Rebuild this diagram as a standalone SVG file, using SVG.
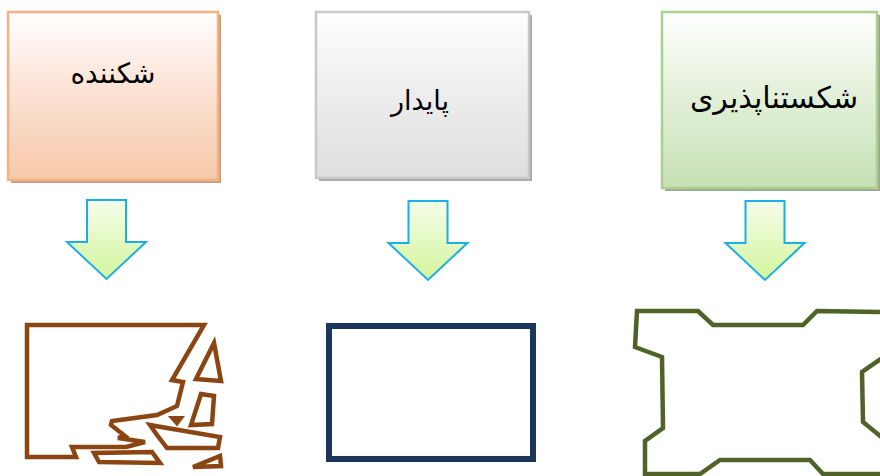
<svg xmlns="http://www.w3.org/2000/svg" width="880" height="476" viewBox="0 0 880 476">
<defs>
<linearGradient id="gOrange" x1="0" y1="0" x2="0" y2="1"><stop offset="0" stop-color="#ffffff"/><stop offset="0.35" stop-color="#fde9df"/><stop offset="1" stop-color="#f6c8a8"/></linearGradient>
<linearGradient id="gGray" x1="0" y1="0" x2="0" y2="1"><stop offset="0" stop-color="#ffffff"/><stop offset="0.4" stop-color="#f0f0f0"/><stop offset="1" stop-color="#dedede"/></linearGradient>
<linearGradient id="gGreen" x1="0" y1="0" x2="0" y2="1"><stop offset="0" stop-color="#ffffff"/><stop offset="0.35" stop-color="#eaf4e2"/><stop offset="1" stop-color="#c6e0b4"/></linearGradient>
<linearGradient id="gArrow" x1="0" y1="0" x2="0" y2="1"><stop offset="0" stop-color="#f4fdea"/><stop offset="1" stop-color="#d3f59c"/></linearGradient>
<path id="arrowShape" d="M-19.5,0 H19.5 V42 H39.5 L0,79 L-39.5,42 H-19.5 Z"/>
</defs>
<style>
.lbl{font-family:"DejaVu Sans","Liberation Sans",sans-serif;fill:#000;text-anchor:middle}
.arrow{fill:url(#gArrow);stroke:#1caee6;stroke-width:2;stroke-linejoin:miter}
.brk{fill:none;stroke:#8b4513;stroke-width:4.5;stroke-linejoin:miter}
.grn{fill:none;stroke:#4f6228;stroke-width:4.5;stroke-linejoin:miter}
</style>
<g id="node-breaking">
<rect x="11" y="15" width="210" height="168" fill="#c3a08a"/>
<rect x="8" y="12" width="210" height="168" fill="url(#gOrange)" stroke="#f4b183" stroke-width="2.5"/>
<text class="lbl" x="113" y="83" font-size="28">شکننده</text>
</g>
<g id="node-stable">
<rect x="319" y="15" width="213" height="166" fill="#a8a8a8"/>
<rect x="316" y="12" width="213" height="166" fill="url(#gGray)" stroke="#c8c8c8" stroke-width="2.5"/>
<text class="lbl" x="420" y="110" font-size="27">پایدار</text>
</g>
<g id="node-unbreakable">
<rect x="665" y="15" width="215" height="176" fill="#a0a498"/>
<rect x="662" y="12" width="215" height="176" fill="url(#gGreen)" stroke="#a9d18e" stroke-width="2.5"/>
<text class="lbl" x="774" y="108" font-size="30">شکستناپذیری</text>
</g>
<g id="connectors">
<use href="#arrowShape" class="arrow" transform="translate(106.5,200)"/>
<use href="#arrowShape" class="arrow" transform="translate(428,201)"/>
<use href="#arrowShape" class="arrow" transform="translate(765,201)"/>
</g>
<g id="shape-broken">
<path class="brk" d="M27,325 L204,325 L172,380 L183,382 L177,406 L157,415 L112,421 L111,425 L125,436 L118,438 L145,442 L126,447 L72,447 L76,457 L27,457 Z"/>
<path class="brk" d="M214,343 L221,381 L196,379 Z"/>
<path class="brk" d="M201,394 L214,396 L212,424 L191,425 Z"/>
<path d="M170,417 L183,417 L177,425 Z" fill="#8b4513" stroke="#8b4513" stroke-width="2"/>
<path class="brk" d="M150,425 L167,428 L220,437 L218,448 L167,448 L157,435 Z"/>
<path class="brk" d="M94,453 L99,462 L160,463 L152,452 Z"/>
<path class="brk" d="M220,456 L221,466 L193,467 Z"/>
</g>
<g id="shape-stable">
<rect x="329" y="326" width="204" height="133" fill="none" stroke="#1b365b" stroke-width="6"/>
</g>
<g id="shape-unbreakable">
<path class="grn" d="M885,312 L817,311 L803,325 L713,325 L698,311 L637,311 L635,347 L662,357 L663,428 L645,441 L645,474 L700,474 L720,460 L810,460 L823,474 L885,474"/>
<path class="grn" d="M885,356 L862,372 L863,422 L885,440"/>
</g>
</svg>
